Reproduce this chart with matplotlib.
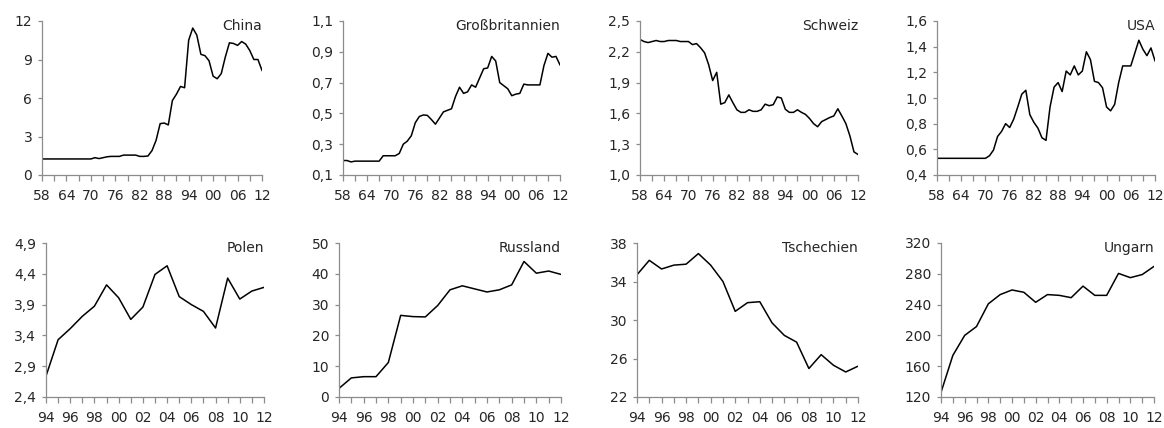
import matplotlib

matplotlib.use("Agg")
import matplotlib.pyplot as plt
from matplotlib.ticker import FixedLocator, FuncFormatter, MultipleLocator

# ── data ──────────────────────────────────────────────────────────────
years_long = list(range(1958, 2013))
years_short = list(range(1994, 2013))

china = [1.25] * 13 + [1.35, 1.28, 1.35, 1.42, 1.45, 1.45, 1.45,
         1.55, 1.55, 1.55, 1.55, 1.45, 1.45, 1.48, 1.9, 2.7, 4.0,
         4.05, 3.9, 5.8, 6.3, 6.9, 6.8, 10.5, 11.45, 10.9, 9.4, 9.3,
         8.9, 7.7, 7.5, 7.9, 9.2, 10.3, 10.25, 10.1, 10.4, 10.2, 9.7,
         9.0, 9.0, 8.15]

gb = [0.194, 0.194, 0.185, 0.19, 0.19, 0.19, 0.19, 0.19, 0.19, 0.19,
      0.225, 0.225, 0.225, 0.225, 0.24, 0.30, 0.32, 0.355, 0.44, 0.48,
      0.49, 0.487, 0.46, 0.43, 0.47, 0.51, 0.52, 0.53, 0.61, 0.67,
      0.63, 0.64, 0.685, 0.67, 0.73, 0.79, 0.795, 0.87, 0.84, 0.70,
      0.68, 0.66, 0.615, 0.625, 0.63, 0.69, 0.685, 0.685, 0.685, 0.685,
      0.81, 0.89, 0.865, 0.87, 0.815]

schweiz = [2.32, 2.30, 2.29, 2.30, 2.31, 2.30, 2.30, 2.31, 2.31, 2.31,
           2.30, 2.30, 2.30, 2.27, 2.28, 2.24, 2.19, 2.075, 1.92, 2.00,
           1.69, 1.705, 1.78, 1.705, 1.635, 1.61, 1.61, 1.635, 1.62, 1.62,
           1.635, 1.69, 1.675, 1.685, 1.76, 1.75, 1.64, 1.61, 1.61, 1.635,
           1.61, 1.59, 1.55, 1.50, 1.47, 1.52, 1.54, 1.56, 1.575, 1.645,
           1.575, 1.50, 1.38, 1.225, 1.20]

usa = [0.53] * 13 + [0.55, 0.595, 0.70, 0.74, 0.80, 0.77, 0.835, 0.93,
       1.03, 1.06, 0.87, 0.81, 0.765, 0.69, 0.67, 0.93, 1.085, 1.12,
       1.05, 1.21, 1.18, 1.25, 1.18, 1.21, 1.36, 1.30, 1.13, 1.12,
       1.08, 0.93, 0.90, 0.95, 1.12, 1.25, 1.25, 1.25, 1.35, 1.45,
       1.38, 1.33, 1.39, 1.29]

polen = [2.74, 3.33, 3.51, 3.71, 3.875, 4.22, 4.01, 3.66, 3.86, 4.39,
         4.53, 4.03, 3.90, 3.79, 3.52, 4.33, 3.99, 4.12, 4.18]

russland = [2.8, 6.2, 6.6, 6.6, 11.2, 26.5, 26.1, 26.0, 29.7, 34.8,
            36.1, 35.1, 34.1, 34.8, 36.4, 44.0, 40.2, 40.9, 39.8]

tschechien = [34.7, 36.2, 35.3, 35.7, 35.8, 36.9, 35.7, 34.0, 30.9, 31.8,
              31.9, 29.7, 28.4, 27.7, 24.96, 26.4, 25.3, 24.6, 25.2]

ungarn = [126, 174, 200, 211.5, 241, 253, 259, 256, 243, 253,
          252, 249, 264, 252, 252, 280.5, 275, 279, 289.6]

panels = [
    # name, x, y, yticks, decimals
    ("China", years_long, china, [0, 3, 6, 9, 12], 0),
    ("Großbritannien", years_long, gb, [0.1, 0.3, 0.5, 0.7, 0.9, 1.1], 1),
    ("Schweiz", years_long, schweiz, [1.0, 1.3, 1.6, 1.9, 2.2, 2.5], 1),
    ("USA", years_long, usa, [0.4, 0.6, 0.8, 1.0, 1.2, 1.4, 1.6], 1),
    ("Polen", years_short, polen, [2.4, 2.9, 3.4, 3.9, 4.4, 4.9], 1),
    ("Russland", years_short, russland, [0, 10, 20, 30, 40, 50], 0),
    ("Tschechien", years_short, tschechien, [22, 26, 30, 34, 38], 0),
    ("Ungarn", years_short, ungarn, [120, 160, 200, 240, 280, 320], 0),
]

# axes rectangles in pixels: left, right, top, bottom
W, H = 1164, 428
boxes = [
    (42, 262, 21, 175), (343, 560, 21, 175), (640, 858, 21, 175), (937, 1155, 21, 175),
    (46, 264, 243, 397), (339, 561, 243, 397), (637, 858, 243, 397), (941, 1154, 243, 397),
]

plt.rcParams["font.family"] = "DejaVu Sans"
fig = plt.figure(figsize=(W / 100, H / 100), dpi=100)
grey = "#8c8c8c"
txt = "#262626"

for (name, xs, ys, yt, dec), (l, r, t, b) in zip(panels, boxes):
    ax = fig.add_axes([l / W, 1 - b / H, (r - l) / W, (b - t) / H])
    ax.plot(xs, ys, color="black", linewidth=1.1)
    ax.set_xlim(xs[0], xs[-1])
    ax.set_ylim(yt[0], yt[-1])
    ax.yaxis.set_major_locator(FixedLocator(yt))
    ax.yaxis.set_major_formatter(
        FuncFormatter(lambda v, p, d=dec: f"{v:.{d}f}".replace(".", ",")))
    if xs[0] == 1958:
        ax.xaxis.set_major_locator(FixedLocator(range(1958, 2013, 6)))
        ax.xaxis.set_minor_locator(FixedLocator(range(1958, 2013, 3)))
    else:
        ax.xaxis.set_major_locator(FixedLocator(range(1994, 2013, 2)))
        ax.xaxis.set_minor_locator(MultipleLocator(1))
    ax.xaxis.set_major_formatter(FuncFormatter(lambda v, p: f"{int(round(v)) % 100:02d}"))
    for s in ("top", "right"):
        ax.spines[s].set_visible(False)
    for s in ("left", "bottom"):
        ax.spines[s].set_color(grey)
        ax.spines[s].set_linewidth(0.9)
    ax.tick_params(which="both", direction="out", color=grey, width=0.9, labelcolor=txt,
                   labelsize=10)
    ax.tick_params(axis="x", which="both", length=4, pad=6)
    ax.tick_params(axis="y", length=3, pad=4)
    ax.set_clip_on(False)
    ax.text(1.0, 0.965, name, transform=ax.transAxes, ha="right", va="center",
            fontsize=10, color=txt)

fig.savefig("out.png", dpi=100)
